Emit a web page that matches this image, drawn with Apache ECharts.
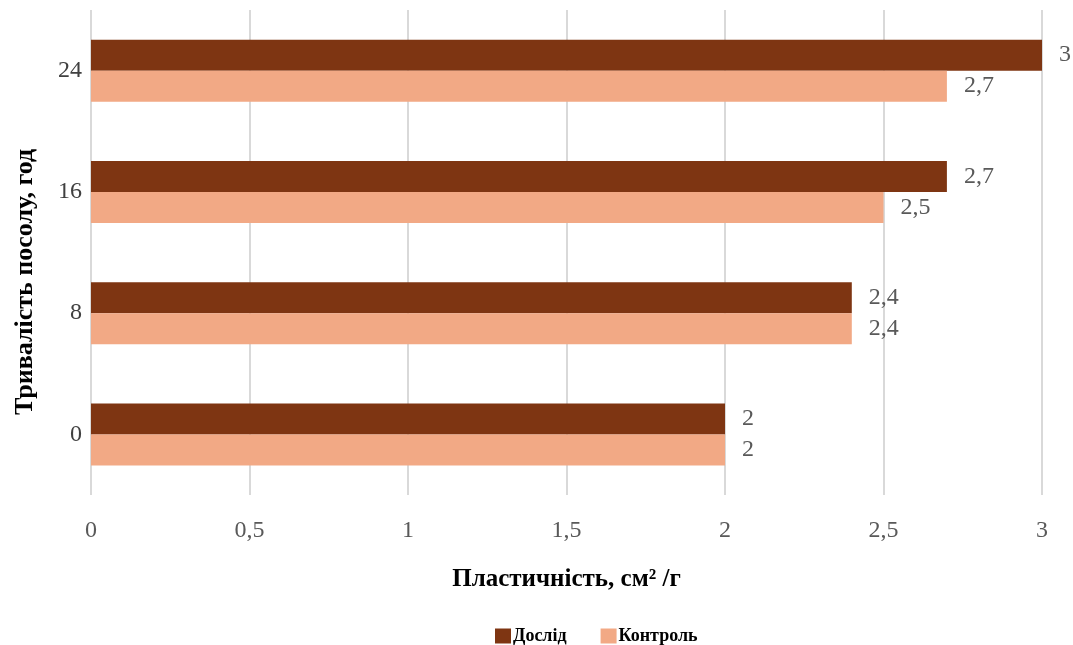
<!DOCTYPE html>
<html>
<head>
<meta charset="utf-8">
<script src="https://cdn.jsdelivr.net/npm/echarts@6/dist/echarts.min.js"></script>
<style>
  html, body { margin: 0; padding: 0; background: #fff; }
  #chart { width: 1073px; height: 645px; }
</style>
</head>
<body>
<div id="chart"></div>
<script>
// Тривалість посолу, год
const categories = ['0', '8', '16', '24'];
// Пластичність, см²/г
const doslid = [2, 2.4, 2.7, 3];
const kontrol = [2, 2.4, 2.5, 2.7];
const xTicks = [0, 0.5, 1, 1.5, 2, 2.5, 3];

const serif = '"Liberation Serif", "Times New Roman", serif';
const fmt = v => String(v).replace('.', ',');

const chart = echarts.init(document.getElementById('chart'));
chart.setOption({
  backgroundColor: '#ffffff',
  animation: false,
  grid: { left: 91, right: 31, top: 10, bottom: 150, containLabel: false },
  legend: {
    data: ['Дослід', 'Контроль'],
    top: 622,
    left: 490,
    icon: 'rect',
    itemWidth: 16,
    itemHeight: 15,
    itemGap: 34,
    textStyle: { fontFamily: serif, fontWeight: 'bold', fontSize: 18, color: '#000', padding: [0, 0, 0, -3] }
  },
  xAxis: {
    type: 'value',
    min: xTicks[0],
    max: xTicks[xTicks.length - 1],
    interval: 0.5,
    name: 'Пластичність, см² /г',
    nameLocation: 'middle',
    nameGap: 72,
    nameTextStyle: { fontFamily: serif, fontWeight: 'bold', fontSize: 25, color: '#000' },
    axisLine: { show: false },
    axisTick: { show: false },
    axisLabel: { fontFamily: serif, fontSize: 24, color: '#595959', margin: 24, formatter: fmt },
    splitLine: { show: true, lineStyle: { color: '#d9d9d9', width: 2 } }
  },
  yAxis: {
    type: 'category',
    data: categories,
    axisLine: { show: false },
    axisTick: { show: false },
    axisLabel: { fontFamily: serif, fontSize: 24, color: '#404040', margin: 9 }
  },
  graphic: [{
    type: 'text',
    x: 25,
    y: 282,
    rotation: Math.PI / 2,
    style: {
      text: 'Тривалість посолу, год',
      font: 'bold 26px ' + serif,
      fill: '#000',
      align: 'center',
      verticalAlign: 'middle'
    }
  }],
  series: [
    {
      name: 'Дослід',
      type: 'bar',
      data: doslid,
      barWidth: 31,
      barGap: '0%',
      itemStyle: { color: '#7e3512' },
      label: {
        show: true, position: 'right', distance: 17,
        fontFamily: serif, fontSize: 24, color: '#595959',
        formatter: p => fmt(p.value)
      }
    },
    {
      name: 'Контроль',
      type: 'bar',
      data: kontrol,
      barWidth: 31,
      barGap: '0%',
      itemStyle: { color: '#f2a985' },
      label: {
        show: true, position: 'right', distance: 17,
        fontFamily: serif, fontSize: 24, color: '#595959',
        formatter: p => fmt(p.value)
      }
    }
  ]
});
</script>
</body>
</html>
